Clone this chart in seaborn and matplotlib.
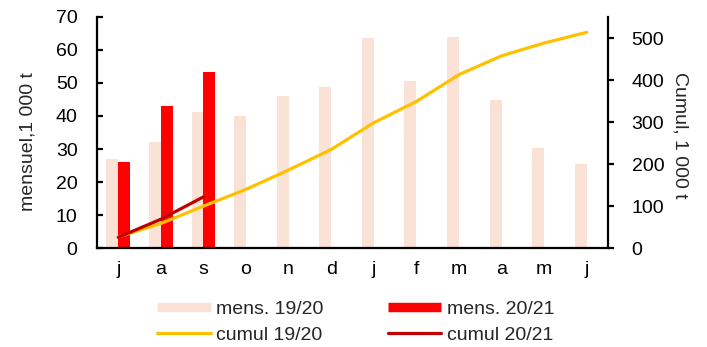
import numpy as np
import pandas as pd
import matplotlib
matplotlib.use("Agg")
import matplotlib.pyplot as plt
from matplotlib.lines import Line2D
import seaborn as sns

# Monthly quantities (1 000 t), marketing year July -> June
months = ["jul", "aug", "sep", "oct", "nov", "dec", "jan", "feb", "mar", "apr", "may", "jun"]
tick_labels = ["j", "a", "s", "o", "n", "d", "j", "f", "m", "a", "m", "j"]
mens_1920 = [27.0, 32.2, 41.2, 40.0, 46.1, 48.9, 63.7, 50.5, 63.8, 44.9, 30.4, 25.5]
mens_2021 = [26.2, 43.0, 53.2]

seasons = ["19/20", "20/21"]
colors_bar = {"19/20": "#FAE3D6", "20/21": "#FF0000"}
color_cum_1920 = "#FFC000"
color_cum_2021 = "#C00000"

cumul_1920 = np.cumsum(mens_1920)
cumul_2021 = np.cumsum(mens_2021)

df = pd.DataFrame({
    "mois": months + months[:len(mens_2021)],
    "saison": [seasons[0]] * len(mens_1920) + [seasons[1]] * len(mens_2021),
    "valeur": mens_1920 + mens_2021,
})

sns.set_style("white")
plt.rcParams["font.family"] = ["Liberation Sans", "DejaVu Sans"]
plt.rcParams["font.size"] = 14

fig = plt.figure(figsize=(7.07, 3.47), dpi=100)
ax = fig.add_axes([97 / 707, 1 - 248.3 / 347, 511 / 707, 231.6 / 347])

sns.barplot(data=df, x="mois", y="valeur", hue="saison", order=months,
            hue_order=seasons, palette=colors_bar, saturation=1,
            width=0.56, dodge=True, legend=False, ax=ax, linewidth=0)

ax2 = ax.twinx()
pos = np.arange(len(months))
sns.lineplot(x=pos, y=cumul_1920, ax=ax2, color=color_cum_1920, linewidth=2.3)
sns.lineplot(x=pos[:len(cumul_2021)], y=cumul_2021, ax=ax2, color=color_cum_2021,
             linewidth=2.3)

ax.set_xlim(-0.5, len(months) - 0.5)
ax.set_ylim(0, 70)
ax.set_yticks(range(0, 71, 10))
ax2.set_ylim(0, 551.4)
ax2.set_yticks(range(0, 501, 100))

ax.set_xticks(pos)
ax.set_xticklabels(tick_labels)
ax.set_xlabel("")
ax.set_ylabel("mensuel,1 000 t", fontsize=14)
ax.yaxis.set_label_coords(-0.119, 0.46)
ax2.set_ylabel("Cumul, 1 000 t", fontsize=14, rotation=270, va="center")
ax2.yaxis.set_label_coords(1.14, 0.49)

for a in (ax, ax2):
    a.spines["top"].set_visible(False)
    for s in a.spines.values():
        s.set_color("black")
        s.set_linewidth(1.6)
ax.spines["right"].set_visible(False)
ax2.spines["left"].set_visible(False)
ax2.spines["bottom"].set_visible(False)

ax.tick_params(axis="x", length=0, pad=9, labelsize=14, colors="black")
ax.tick_params(axis="y", direction="in", length=4, width=1.6, pad=14,
               labelsize=14, colors="black", left=True)
ax2.tick_params(axis="y", direction="out", length=4.5, width=1.6, pad=12.5,
                labelsize=14, colors="black", right=True)

handles = [
    Line2D([], [], color=colors_bar["19/20"], linewidth=6.8, solid_capstyle="butt"),
    Line2D([], [], color=color_cum_1920, linewidth=2.3),
    Line2D([], [], color=colors_bar["20/21"], linewidth=6.8, solid_capstyle="butt"),
    Line2D([], [], color=color_cum_2021, linewidth=2.3),
]
labels = ["mens. 19/20", "cumul 19/20", "mens. 20/21", "cumul 20/21"]
fig.legend(handles, labels, loc="center", bbox_to_anchor=(356 / 707, 1 - 322 / 347),
           ncol=2, frameon=False, fontsize=14, handlelength=2.75,
           handletextpad=0.3, columnspacing=3.3, labelspacing=0.4)

fig.savefig("out.png", dpi=100)
